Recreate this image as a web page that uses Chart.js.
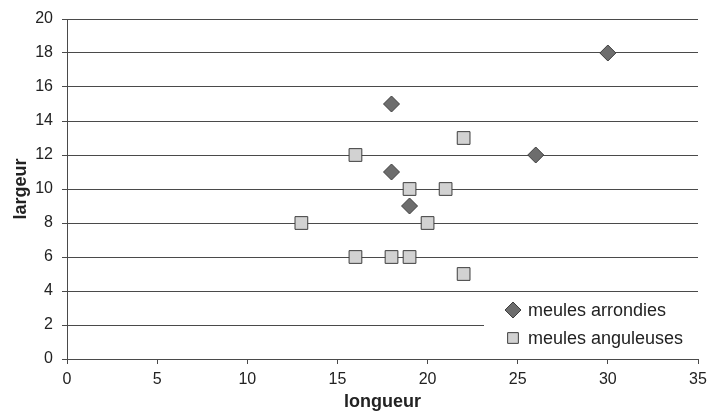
<!DOCTYPE html>
<html>
<head>
<meta charset="utf-8">
<script src="https://cdn.jsdelivr.net/npm/chart.js@4.4.0/dist/chart.umd.min.js"></script>
<style>
  html, body { margin: 0; padding: 0; background: #fff; }
  #wrap { width: 710px; height: 418px; }
</style>
</head>
<body>
<div id="wrap"><canvas id="chart" width="710" height="418"></canvas></div>
<script>
// meules arrondies (diamonds)
const arrondiesX = [30, 18, 26, 18, 19];
const arrondiesY = [18, 15, 12, 11, 9];
// meules anguleuses (squares)
const anguleusesX = [22, 16, 19, 21, 13, 20, 16, 18, 19, 22];
const anguleusesY = [13, 12, 10, 10, 8, 8, 6, 6, 6, 5];

const seriesNames = ['meules arrondies', 'meules anguleuses'];
const xTitle = 'longueur';
const yTitle = 'largeur';

const toPoints = (xs, ys) => xs.map((x, i) => ({ x, y: ys[i] }));

const lineColor = '#4a4a4a';
const fontFamily = '"Liberation Sans", Arial, sans-serif';

// legend drawn inside the plot, on a white box covering the grid
const insideLegend = {
  id: 'insideLegend',
  beforeDatasetsDraw(chart) {
    const { ctx, chartArea } = chart;
    const left = chartArea.right - 214;
    const top = chartArea.bottom - 65;
    ctx.save();
    ctx.fillStyle = '#fff';
    ctx.fillRect(left, top, chartArea.right - left + 2, chartArea.bottom - top - 2);
    ctx.font = '18px ' + fontFamily;
    ctx.textBaseline = 'middle';
    chart.data.datasets.forEach((ds, i) => {
      const cy = top + 16 + i * 28;
      const cx = left + 29;
      ctx.fillStyle = ds.backgroundColor;
      ctx.strokeStyle = ds.borderColor;
      ctx.lineWidth = 1;
      Chart.helpers.drawPoint(ctx, {
        pointStyle: ds.pointStyle,
        radius: i === 0 ? 8 : 7.6,
        borderWidth: 1,
      }, cx, cy);
      ctx.fillStyle = '#222';
      ctx.fillText(ds.label, left + 44, cy + 1);
    });
    ctx.restore();
  },
};

new Chart(document.getElementById('chart'), {
  type: 'scatter',
  data: {
    datasets: [
      {
        label: seriesNames[0],
        data: toPoints(arrondiesX, arrondiesY),
        pointStyle: 'rectRot',
        pointRadius: 8,
        backgroundColor: '#6d6d6d',
        borderColor: '#3e3e3e',
        borderWidth: 1,
      },
      {
        label: seriesNames[1],
        data: toPoints(anguleusesX, anguleusesY),
        pointStyle: 'rect',
        pointRadius: 9,
        backgroundColor: '#d2d2d2',
        borderColor: '#3e3e3e',
        borderWidth: 1,
      },
    ],
  },
  options: {
    responsive: false,
    animation: false,
    events: [],
    layout: { padding: { top: 19, right: 12, left: 0, bottom: 0 } },
    plugins: {
      legend: { display: false },
      tooltip: { enabled: false },
    },
    scales: {
      x: {
        type: 'linear',
        min: 0,
        max: 35,
        ticks: { stepSize: 5, color: '#222', font: { family: fontFamily, size: 16 }, padding: 6 },
        grid: { drawOnChartArea: false, drawTicks: true, tickLength: 5, color: lineColor },
        border: { display: true, color: lineColor, width: 1 },
        title: { display: true, text: xTitle, color: '#222', font: { family: fontFamily, size: 18, weight: 'bold' }, padding: { top: 0, bottom: 5 } },
        afterFit: (s) => { s.height = 59; s.paddingRight = 0; s.paddingLeft = 0; },
      },
      y: {
        type: 'linear',
        min: 0,
        max: 20,
        ticks: { stepSize: 2, color: '#222', font: { family: fontFamily, size: 16 }, padding: 9 },
        grid: { color: lineColor, lineWidth: 1, drawTicks: true, tickLength: 5 },
        border: { display: true, color: lineColor, width: 1 },
        title: { display: true, text: yTitle, color: '#222', font: { family: fontFamily, size: 18, weight: 'bold' }, padding: { top: 10, bottom: 0 } },
        afterFit: (s) => { s.width = 67; },
      },
    },
  },
  plugins: [insideLegend],
});
</script>
</body>
</html>
